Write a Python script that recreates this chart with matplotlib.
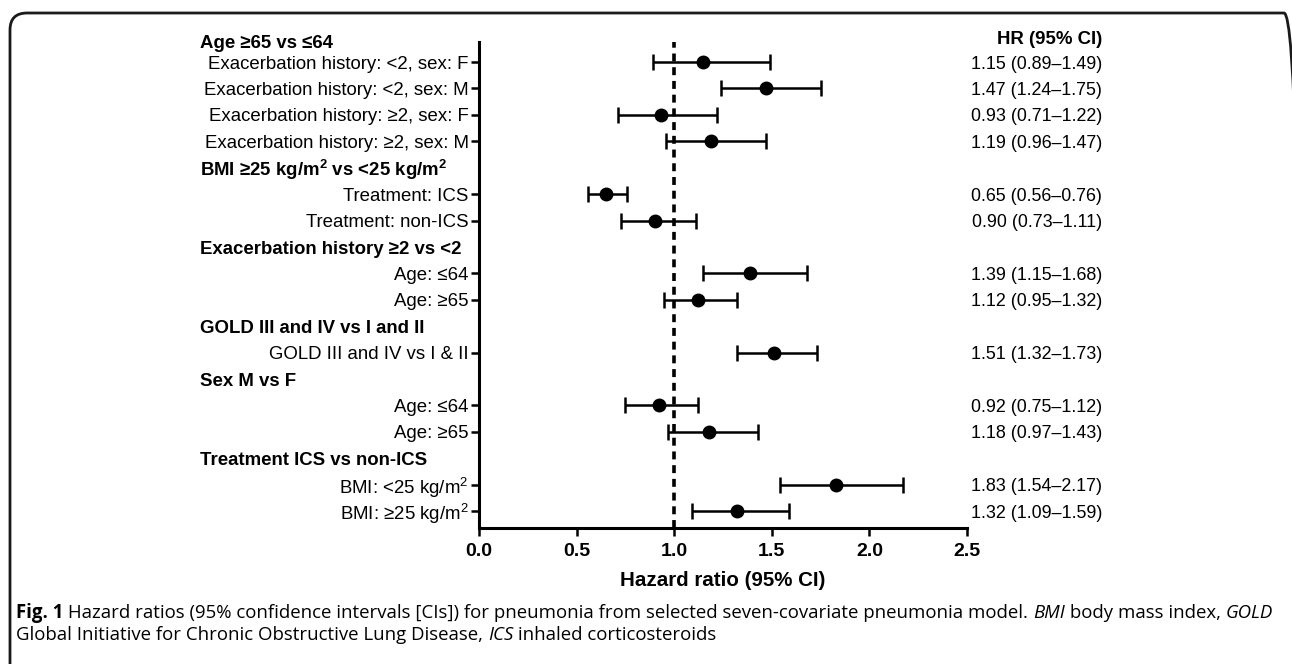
"""Forest plot: hazard ratios (95% CI) for pneumonia, seven-covariate model."""
import matplotlib
matplotlib.use("Agg")
import matplotlib.pyplot as plt
from matplotlib.patches import FancyBboxPatch
from matplotlib.transforms import blended_transform_factory, IdentityTransform

matplotlib.rcParams["font.family"] = ["Liberation Sans", "DejaVu Sans"]
matplotlib.rcParams["mathtext.fontset"] = "custom"
matplotlib.rcParams["mathtext.rm"] = "Liberation Sans"
matplotlib.rcParams["mathtext.bf"] = "Liberation Sans:bold"
matplotlib.rcParams["mathtext.default"] = "regular"

# ── data ──────────────────────────────────────────────────────────
groups = [
    "Age ≥65 vs ≤64",
    r"BMI ≥25 kg/m$^\mathbf{2}$ vs <25 kg/m$^\mathbf{2}$",
    "Exacerbation history ≥2 vs <2",
    "GOLD III and IV vs I and II",
    "Sex M vs F",
    "Treatment ICS vs non-ICS",
]
row_labels = [
    ["Exacerbation history: <2, sex: F", "Exacerbation history: <2, sex: M",
     "Exacerbation history: ≥2, sex: F", "Exacerbation history: ≥2, sex: M"],
    ["Treatment: ICS", "Treatment: non-ICS"],
    ["Age: ≤64", "Age: ≥65"],
    ["GOLD III and IV vs I & II"],
    ["Age: ≤64", "Age: ≥65"],
    [r"BMI: <25 kg/m$^2$", r"BMI: ≥25 kg/m$^2$"],
]
hr = [1.15, 1.47, 0.93, 1.19, 0.65, 0.90, 1.39, 1.12, 1.51, 0.92, 1.18, 1.83, 1.32]
ci_low = [0.89, 1.24, 0.71, 0.96, 0.56, 0.73, 1.15, 0.95, 1.32, 0.75, 0.97, 1.54, 1.09]
ci_high = [1.49, 1.75, 1.22, 1.47, 0.76, 1.11, 1.68, 1.32, 1.73, 1.12, 1.43, 2.17, 1.59]
x_ticks = [0.0, 0.5, 1.0, 1.5, 2.0, 2.5]

FS = 13.4

# ── layout: one slot per line (headings + rows) ───────────────────
W, H = 1292, 664
fig = plt.figure(figsize=(W / 100, H / 100), dpi=100)
ax = fig.add_axes([479 / W, 1 - 528 / H, (967 - 479) / W, (528 - 42) / H])

heading_pos, row_pos, labels = [], [], []
slot = 0
for g, rows in zip(groups, row_labels):
    heading_pos.append(slot)
    slot += 1
    for r in rows:
        row_pos.append(slot)
        labels.append(r)
        slot += 1

err = [[h - lo for h, lo in zip(hr, ci_low)], [hi - h for h, hi in zip(hr, ci_high)]]
ax.errorbar(hr, row_pos, xerr=err, fmt="o", color="black", ms=9,
            elinewidth=1.8, capsize=6, capthick=1.8, zorder=3)
ax.axvline(1.0, color="black", ls=(0, (2.2, 1.6)), lw=2.6, zorder=2)

ax.set_xlim(0, 2.5)
ax.set_ylim(slot - 1 + 0.64, 0.24)
ax.set_xticks(x_ticks)
ax.set_xticklabels([f"{t:.1f}" for t in x_ticks], fontsize=14, fontweight="bold")
ax.set_yticks(row_pos)
ax.set_yticklabels(labels, fontsize=FS)
ax.tick_params(axis="both", length=5.5, width=1.8, color="black")
ax.tick_params(axis="y", pad=2)
ax.tick_params(axis="x", pad=5)
for s in ["top", "right"]:
    ax.spines[s].set_visible(False)
for s in ["left", "bottom"]:
    ax.spines[s].set_linewidth(2.2)
ax.set_xlabel("Hazard ratio (95% CI)", fontsize=14.8, fontweight="bold", labelpad=8)

# group headings and HR text column
trans = blended_transform_factory(fig.transFigure, ax.transData)
for i, (g, y) in enumerate(zip(groups, heading_pos)):
    dy = 0.28 if i == 0 else 0.1
    ax.text(200 / W, y + dy, g, transform=trans, fontsize=FS, fontweight="bold",
            ha="left", va="center", clip_on=False)
ax.text(1102 / W, heading_pos[0] + 0.13, "HR (95% CI)", transform=trans, fontsize=FS,
        fontweight="bold", ha="right", va="center", clip_on=False)
for h, lo, hi, y in zip(hr, ci_low, ci_high, row_pos):
    ax.text(1102 / W, y, f"{h:.2f} ({lo:.2f}–{hi:.2f})", transform=trans,
            fontsize=12.9, ha="right", va="center_baseline", clip_on=False)

# rounded frame, open at the bottom, right edge just off the canvas
frame = FancyBboxPatch((10, -60), 1291, H - 13 + 60,
                       boxstyle="round,pad=0,rounding_size=17",
                       transform=IdentityTransform(), fill=False, lw=2,
                       ec="#1a1a1a")
fig.patches.append(frame)

# caption with mixed styles
fig.canvas.draw()
renderer = fig.canvas.get_renderer()
cap_font = ["Open Sans", "DejaVu Sans"]


def caption_line(pieces, x0, y):
    x = x0
    for txt, style in pieces:
        t = fig.text(x / W, 1 - y / H, txt, fontsize=13.4, family=cap_font,
                     fontweight="bold" if style == "b" else "normal",
                     fontstyle="italic" if style == "i" else "normal",
                     ha="left", va="baseline")
        x += t.get_window_extent(renderer).width


caption_line([("Fig. 1", "b"),
              (" Hazard ratios (95% confidence intervals [CIs]) for pneumonia from "
               "selected seven-covariate pneumonia model. ", "n"),
              ("BMI", "i"), (" body mass index, ", "n"), ("GOLD", "i")], 16, 618)
caption_line([("Global Initiative for Chronic Obstructive Lung Disease, ", "n"),
              ("ICS", "i"), (" inhaled corticosteroids", "n")], 16, 640)

fig.savefig("out.png", dpi=100)
